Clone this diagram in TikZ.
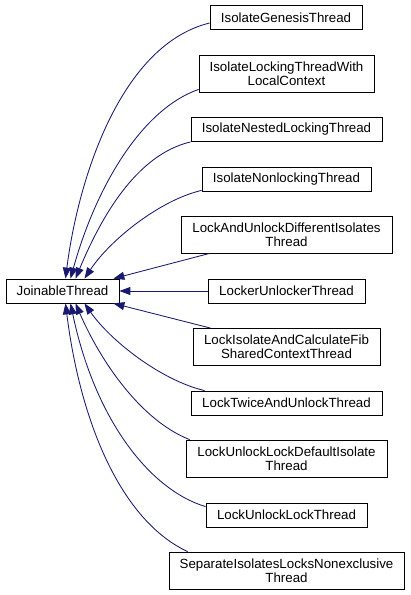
\documentclass[tikz,border=0pt]{standalone}
\usepackage{fontspec}
\setmainfont{Liberation Sans}
\usetikzlibrary{arrows.meta}
\definecolor{edgeblue}{RGB}{25,25,112}
\tikzset{
  cls/.style={draw=black, line width=0.8pt, fill=white, inner sep=0pt, align=center,
    font=\fontsize{13.3}{14}\selectfont, minimum height=24pt},
  cls2/.style={cls, minimum height=37pt},
  inh/.style={draw=edgeblue, line width=0.85pt, -{Triangle[length=11pt,width=8pt]}, fill=none},
}
\begin{document}
\begin{tikzpicture}[x=1pt,y=-1pt]
\useasboundingbox (0,0) rectangle (411,595);
\node[cls, minimum width=113pt] (J) at (62.5,291) {JoinableThread};
\node[cls, minimum width=152pt] (n1) at (286,17.5) {IsolateGenesisThread};
\node[cls2, minimum width=175pt] (n2) at (286.5,73.5) {IsolateLockingThreadWith\\LocalContext};
\node[cls, minimum width=191pt] (n3) at (286.5,129.5) {IsolateNestedLockingThread};
\node[cls, minimum width=169pt] (n4) at (286.5,179) {IsolateNonlockingThread};
\node[cls2, minimum width=211pt] (n5) at (286.5,234.5) {LockAndUnlockDifferentIsolates\\Thread};
\node[cls, minimum width=157pt] (n6) at (286.5,291) {LockerUnlockerThread};
\node[cls2, minimum width=187pt] (n7) at (286.5,347) {LockIsolateAndCalculateFib\\SharedContextThread};
\node[cls, minimum width=191pt] (n8) at (286.5,403) {LockTwiceAndUnlockThread};
\node[cls2, minimum width=201pt] (n9) at (286.5,458.5) {LockUnlockLockDefaultIsolate\\Thread};
\node[cls, minimum width=161pt] (n10) at (286.5,515) {LockUnlockLockThread};
\node[cls2, minimum width=235pt] (n11) at (286.5,570.5) {SeparateIsolatesLocksNonexclusive\\Thread};

\draw[inh] ([yshift=-5.5pt]n1.west) .. controls (120,45) and (78,180) .. ([xshift=3pt]J.north);
\draw[inh] ([yshift=3pt]n2.south west) .. controls (140,110) and (95,190) .. ([xshift=8pt]J.north);
\draw[inh] (n3.south west) .. controls (135,155) and (100,220) .. ([xshift=13pt]J.north);
\draw[inh] ([yshift=1pt]n4.south west) .. controls (160,200) and (110,240) .. ([xshift=22pt]J.north);
\draw[inh] ([xshift=29pt]n5.south west) -- ([xshift=-6pt]J.north east);
\draw[inh] (n6.west) -- (J.east);
\draw[inh] ([xshift=18pt]n7.north west) -- ([xshift=-6pt]J.south east);
\draw[inh] ([xshift=14pt]n8.north west) .. controls (160,380) and (110,340) .. ([xshift=22pt]J.south);
\draw[inh] ([xshift=4pt]n9.north west) .. controls (140,420) and (100,360) .. ([xshift=13pt]J.south);
\draw[inh] ([yshift=-4pt]n10.north west) .. controls (150,490) and (95,420) .. ([xshift=8pt]J.south);
\draw[inh] ([xshift=19pt]n11.north west) .. controls (120,520) and (80,420) .. ([xshift=3pt]J.south);
\end{tikzpicture}
\end{document}
